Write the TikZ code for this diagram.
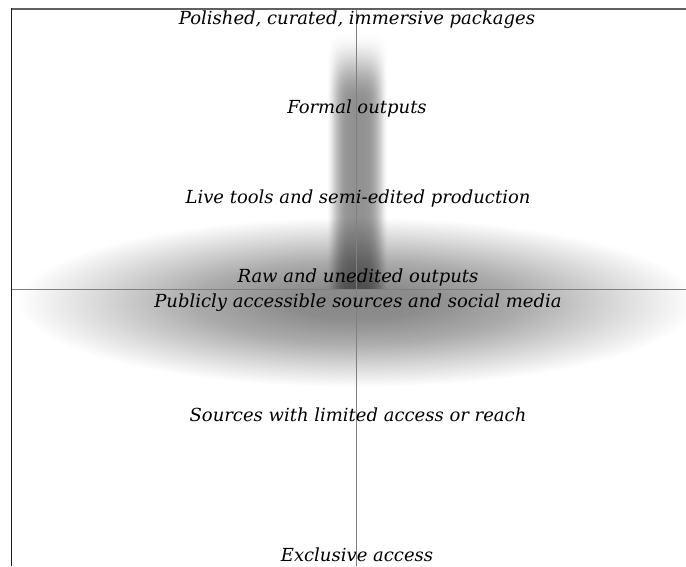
\documentclass[tikz,border=0pt]{standalone}
\usepackage{fontspec}
\setmainfont{DejaVu Serif}
% soft grey halo, dark in the middle and fading to white at the rim
\pgfdeclareradialshading{halo}{\pgfpointorigin}{%
  color(0bp)=(black!47); color(5bp)=(black!45); color(12bp)=(black!33);
  color(19bp)=(black!15); color(25bp)=(white); color(50bp)=(white)}
% vertical band: smooth cross profile, fading out towards its upper end
% (x and y run from -25 to 25 across the shaded path)
\pgfdeclarefunctionalshading{bandfn}{\pgfpoint{-50bp}{-50bp}}{\pgfpoint{50bp}{50bp}}{}{
  25 exch sub 13.5 div
  dup 1 gt {pop 1} if
  dup 0 lt {pop 0} if
  dup dup mul exch 2 mul 3 exch sub mul
  exch 25 div dup mul 1 exch sub
  dup 0 lt {pop 0} if
  dup dup mul exch 2 mul 3 exch sub mul
  mul 0.43 mul 1 exch sub
  dup dup
}
\begin{document}
\begin{tikzpicture}[x=1pt,y=-1pt,
  tier/.style={font=\itshape\fontsize{18}{21}\selectfont, inner sep=0pt, text=black},
  frameline/.style={line width=2pt, black!62},
  sideline/.style={line width=1.3pt, black!90},
  axisline/.style={line width=0.8pt, black!50}]
\useasboundingbox (0,0) rectangle (686,566);

% frame and axis end points
\coordinate (tl) at (11,9);
\coordinate (tr) at (686,9);
\coordinate (sl) at (11.5,8);
\coordinate (bl) at (11.5,566);
\coordinate (vtop) at (356.5,9);
\coordinate (vbot) at (356.5,566);
\coordinate (hleft) at (12,289.5);
\coordinate (hright) at (686,289.5);

% wide horizontal halo
\shade[shading=halo] (357,302) ellipse [x radius=340, y radius=85];

% narrow vertical band, multiplied onto the halo
\shade[blend mode=multiply, shading=bandfn] (326,30) rectangle (388,289.5);

% frame and axes
\draw[frameline] (tl) -- (tr);
\draw[sideline] (sl) -- (bl);
\draw[axisline] (vtop) -- (vbot);
\draw[axisline] (hleft) -- (hright);

% tiers
\node[tier] (polished) at (357,20) {Polished, curated, immersive packages};
\node[tier] (formal) at (357,109) {Formal outputs};
\node[tier] (live) at (358,199) {Live tools and semi-edited production};
\node[tier] (raw) at (358,278) {Raw and unedited outputs};
\node[tier] (public) at (358,303) {Publicly accessible sources and social media};
\node[tier] (limited) at (358,415) {Sources with limited access or reach};
\node[tier] (exclusive) at (357,555) {Exclusive access};
\end{tikzpicture}
\end{document}
